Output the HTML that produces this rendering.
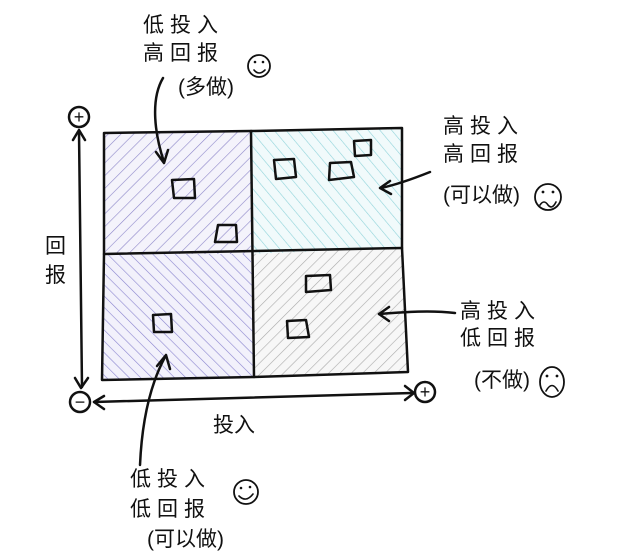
<!DOCTYPE html>
<html><head><meta charset="utf-8"><style>
html,body{margin:0;padding:0;background:#fff;}
svg{display:block;}
text{font-family:"Liberation Sans","Noto Sans CJK SC",sans-serif;fill:#111;font-size:21px;}
</style></head><body>
<svg width="640" height="554" viewBox="0 0 640 554" xmlns="http://www.w3.org/2000/svg">
<defs>
<pattern id="p1" width="9" height="9" patternUnits="userSpaceOnUse" patternTransform="rotate(45)">
<rect width="9" height="9" fill="#f4f3fb"/><line x1="0" y1="0" x2="0" y2="9" stroke="#8e87c9" stroke-width="1.2"/></pattern>
<pattern id="p2" width="9" height="9" patternUnits="userSpaceOnUse" patternTransform="rotate(-40)">
<rect width="9" height="9" fill="#f1fafb"/><line x1="0" y1="0" x2="0" y2="9" stroke="#8fd3da" stroke-width="1.2"/></pattern>
<pattern id="p3" width="8" height="8" patternUnits="userSpaceOnUse" patternTransform="rotate(-45)">
<rect width="8" height="8" fill="#f2f1fb"/><line x1="0" y1="0" x2="0" y2="8" stroke="#8a84cf" stroke-width="1.2"/></pattern>
<pattern id="p4" width="8" height="8" patternUnits="userSpaceOnUse" patternTransform="rotate(45)">
<rect width="8" height="8" fill="#f7f7f7"/><line x1="0" y1="0" x2="0" y2="8" stroke="#aaa" stroke-width="1.2"/></pattern>
</defs>
<g stroke="none">
<polygon points="104,133 251,131 251,254 104,254" fill="url(#p1)"/>
<polygon points="251,131 402,128 402,248 251,254" fill="url(#p2)"/>
<polygon points="104,254 251,254 254,377 102,380" fill="url(#p3)"/>
<polygon points="251,254 402,248 408,372 254,377" fill="url(#p4)"/>
</g>
<g fill="none" stroke="#111" stroke-width="2.5" stroke-linecap="round" stroke-linejoin="round">
<polyline points="104,133 251,131 402,128 402,248 408,372 254,377 102,380 104,254 104,133"/>
<line x1="251" y1="131" x2="254" y2="377"/>
<line x1="104" y1="254" x2="402" y2="248"/>
<path d="M172,180 L194,179 L195,198 L174,198Z M218,225 L236,225 L237,242 L215,242Z M274,160 L294,159 L296,177 L276,179Z M330,163 L351,162 L354,177 L329,180Z M354,141 L371,140 L371,155 L355,156Z M306,276 L330,275 L331,290 L306,292Z M287,321 L306,320 L309,337 L288,338Z M153,315 L171,314 L172,332 L154,332Z"/>
<line x1="79" y1="132" x2="82" y2="387"/>
<polyline points="73,140 79,130 85,140"/>
<polyline points="75,378 81,388 88,378"/>
<line x1="94" y1="402" x2="412" y2="393"/>
<polyline points="104,396 94,402 104,409"/>
<polyline points="405,386 414,393 405,400"/>
<circle cx="79" cy="117" r="10"/>
<circle cx="80" cy="402" r="10"/>
<circle cx="425" cy="392" r="10"/>
<path d="M163,78 C150,100 155,135 164,162"/><polyline points="156,152 164,163 168,150"/>
<path d="M140,465 C142,420 150,385 165,357"/><polyline points="157,366 166,355 170,369"/>
<path d="M430,172 C410,180 395,185 381,188"/><polyline points="390,181 380,188 391,194"/>
<path d="M455,313 C430,310 405,312 379,314"/><polyline points="389,307 379,314 389,321"/>
<circle cx="259" cy="66" r="11" stroke-width="1.8"/>
<circle cx="548" cy="197" r="13" stroke-width="1.8"/>
<ellipse cx="552" cy="382" rx="12" ry="15" stroke-width="1.8"/>
<circle cx="246" cy="492" r="12" stroke-width="1.8"/>
<path d="M254,70 Q259,76 265,70 M540,205 Q544,199 548,205 Q552,210 556,202 M546,391 Q552,380 558,391 M239,496 Q246,503 253,494" stroke-width="1.6"/>
</g>
<g fill="#111">
<circle cx="255" cy="62" r="1.3"/><circle cx="263" cy="62" r="1.3"/>
<circle cx="543" cy="192" r="1.4"/><circle cx="553" cy="192" r="1.4"/>
<circle cx="547" cy="376" r="1.4"/><circle cx="557" cy="376" r="1.4"/>
<circle cx="241" cy="488" r="1.3"/><circle cx="250" cy="487" r="1.3"/>
</g>
<g text-anchor="middle">
<text x="79" y="123" style="font-size:18px">+</text>
<text x="80" y="408" style="font-size:18px">−</text>
<text x="425" y="398" style="font-size:18px">+</text>
</g>
<text x="143" y="32" letter-spacing="6">低投入</text>
<text x="143" y="60" letter-spacing="6">高回报</text>
<text x="178" y="94">(多做)</text>
<text x="443" y="133" letter-spacing="6">高投入</text>
<text x="443" y="161" letter-spacing="6">高回报</text>
<text x="443" y="202">(可以做)</text>
<text x="460" y="318" letter-spacing="6">高投入</text>
<text x="460" y="345" letter-spacing="6">低回报</text>
<text x="474" y="387">(不做)</text>
<text x="130" y="486" letter-spacing="6">低投入</text>
<text x="130" y="516" letter-spacing="6">低回报</text>
<text x="147" y="546">(可以做)</text>
<text x="45" y="253">回</text>
<text x="45" y="282">报</text>
<text x="213" y="432">投入</text>
</svg>
</body></html>
